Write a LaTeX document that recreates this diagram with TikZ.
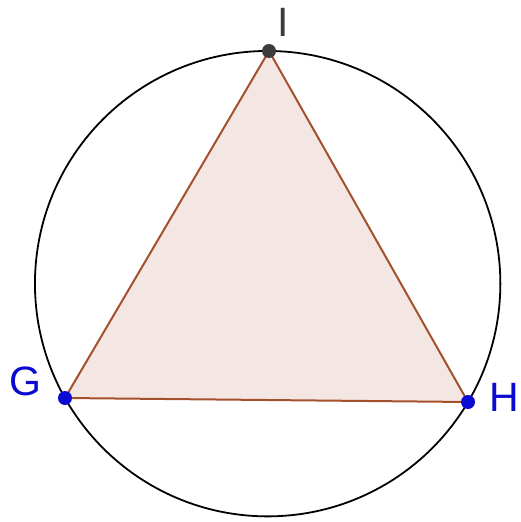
\documentclass[tikz,border=0pt]{standalone}
\usepackage{fontspec}
\setmainfont{Liberation Sans}
\definecolor{trifill}{RGB}{244,230,226}
\definecolor{triedge}{RGB}{165,80,45}
\definecolor{ptblue}{RGB}{10,10,210}
\definecolor{ptgray}{RGB}{60,60,60}
\begin{document}
\begin{tikzpicture}[x=1pt,y=-1pt,
  pt/.style={circle,inner sep=0pt,minimum size=14pt},
  lbl/.style={font=\fontsize{41}{45}\selectfont,inner sep=0pt}]
\useasboundingbox (0,0) rectangle (521,522);
\coordinate (O) at (267.65,283.67);
\coordinate (G) at (65,398);
\coordinate (H) at (468,402);
\coordinate (I) at (269,51);
\filldraw[fill=trifill,draw=triedge,line width=2pt] (G) -- (H) -- (I) -- cycle;
\draw[black,line width=1.8pt] (O) circle[radius=232.7];
\node[pt,fill=ptblue] (g) at (G) {};
\node[pt,fill=ptblue] (h) at (H) {};
\node[pt,fill=ptgray] (i) at (I) {};
\node[lbl,text=ptblue] (lg) at (25,381) {G};
\node[lbl,text=ptblue] (lh) at (504,397) {H};
\node[lbl,text=ptgray] (li) at (283,22) {I};
\end{tikzpicture}
\end{document}
